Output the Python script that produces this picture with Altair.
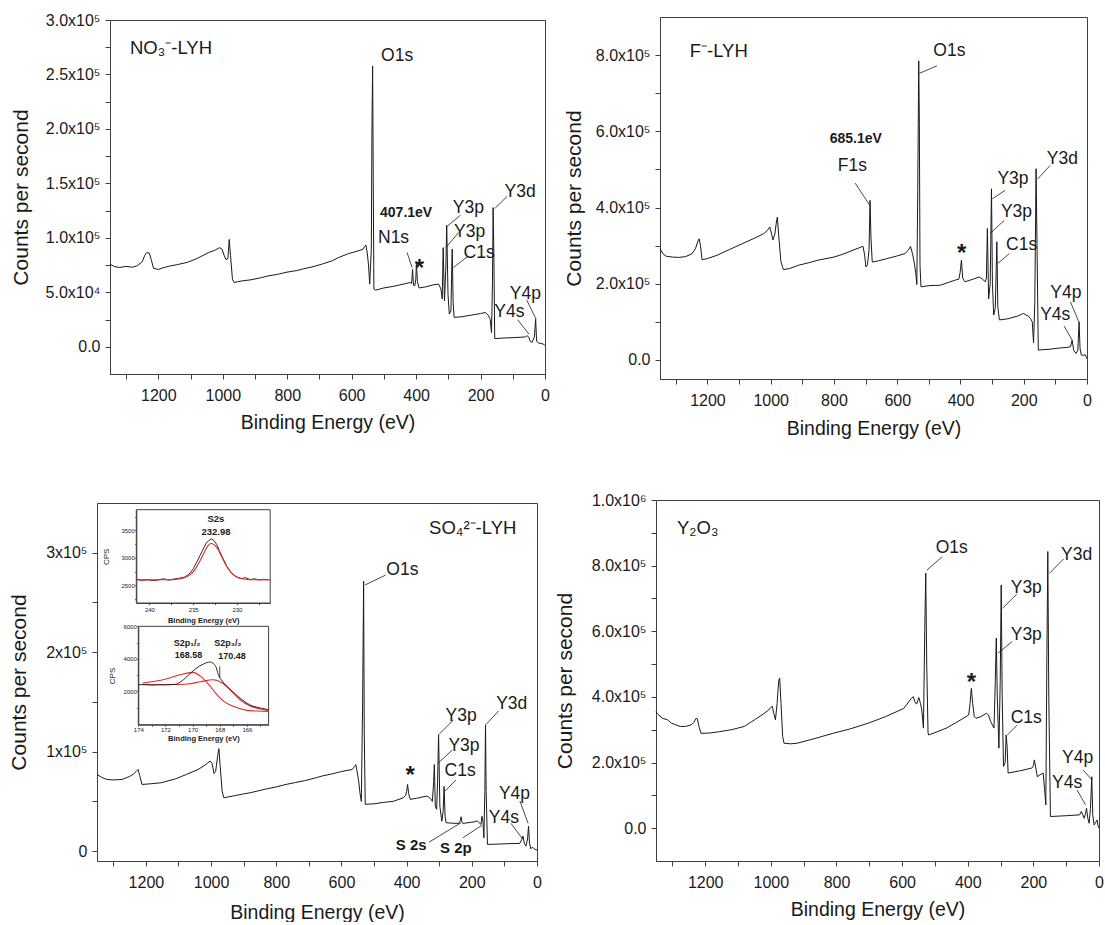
import altair as alt
import pandas as pd

FONT = "Liberation Sans"
INK = "#1a1a1a"
FRAME = "#404040"
RED = "#e8262a"

X_DOMAIN = [1350, 0]
X_TICKS = list(range(0, 1400, 100))
X_TITLE = "Binding Energy (eV)"
Y_TITLE = "Counts per second"

# ---------------- panel 1 : NO3- LYH ----------------
p1_be = [1350, 1335, 1320, 1300, 1280, 1265, 1250, 1242, 1236, 1228, 1222, 1215, 1200, 1185, 1166, 1140,
         1110, 1080, 1044, 1025, 1010, 1002, 996, 990, 984, 980, 976, 970, 965, 940, 912, 880, 860, 830,
         801, 770, 750, 720, 691, 660, 640, 610, 580, 565, 560, 556, 552, 548, 544, 539, 537, 535, 533,
         531, 526, 500, 470, 440, 418, 414, 411, 408, 404, 401, 399, 396, 391, 370, 345, 330, 323, 319,
         316, 312, 308, 305, 301, 297, 292, 288, 285, 282, 260, 240, 220, 200, 185, 176, 170, 166, 163,
         161, 159, 156, 130, 90, 61, 55, 50, 46, 40, 33, 29, 26, 20, 12, 5, 0]
p1_cps = [75800, 73500, 72800, 73800, 73000, 74500, 78000, 84000, 86500, 86000, 80000, 72000, 71000, 72500,
          74000, 75500, 77500, 81000, 86500, 88500, 91000, 89500, 84000, 80000, 81000, 98500, 84000, 62000,
          59000, 60500, 61500, 63500, 65000, 66500, 68500, 70000, 71500, 73500, 76000, 79000, 82000, 85500,
          88000, 89500, 92000, 93500, 87000, 76000, 57500, 90000, 200000, 257800, 150000, 53000, 52000,
          54000, 55500, 57500, 59000, 58000, 71000, 56500, 56000, 62000, 77000, 60000, 54000, 55000, 57000,
          57500, 53000, 44000, 91000, 42000, 70000, 111600, 48000, 30000, 33000, 89600, 40000, 27000, 27500,
          28500, 29500, 30500, 31500, 29000, 25000, 13000, 60000, 127800, 90000, 7500, 8000, 8500, 9000,
          10200, 8500, 5000, 4000, 9000, 25400, 5000, 3500, 3000, 2500, 1000]
p1_lab = ["O1s", "N1s", "Y3p", "Y3p", "C1s", "Y3d", "Y4p", "Y4s"]
p1_lab_x = [459, 470, 238, 234, 204.6, 77.4, 60.8, 110.6]
p1_lab_y = [267000, 99400, 127000, 105800, 85900, 142200, 48300, 31500]
p1_lead_x1 = [428, 262, 268, 240, 118, 56.4, 85]
p1_lead_y1 = [86500, 120800, 104900, 82900, 137900, 42800, 24800]
p1_lead_x2 = [412.5, 302, 307.5, 284, 156, 27.7, 49.8]
p1_lead_y2 = [72800, 111000, 91100, 72800, 126900, 25400, 11600]
p1_bold = ["407.1eV"]
p1_bold_x = [431]
p1_bold_y = [123000]
p1_star_x = [390]
p1_star_y = [75800]
p1_title = ["NO₃⁻-LYH"]
p1_title_x = [1288]
p1_title_y = [274700]
p1_y_domain = [-25000, 300000]
p1_y_ticks = list(range(0, 300001, 25000))

# ---------------- panel 2 : F- LYH ----------------
p2_be = [1350, 1340, 1330, 1310, 1292, 1270, 1250, 1238, 1230, 1226, 1222, 1217, 1200, 1169, 1130, 1090,
         1050, 1023, 1010, 1003, 997, 993, 987, 982, 979, 975, 968, 960, 940, 912, 880, 850, 800, 770, 740,
         712, 708, 703, 699, 694, 689, 686, 683, 679, 660, 632, 600, 576, 565, 558, 552, 546, 541, 538,
         535, 532, 530, 528, 525, 500, 464, 440, 415, 405, 401, 397, 393, 386, 360, 341, 330, 322, 318,
         315, 311, 306, 302, 299, 295, 290, 285, 282, 277, 250, 220, 201, 193, 185, 179, 173, 169, 165,
         161, 158, 154, 120, 90, 62, 52, 47, 42, 35, 29, 25, 22, 18, 12, 6, 0]
p2_cps = [292000, 278000, 272000, 270000, 269000, 271000, 278000, 292000, 312000, 318000, 300000, 263000,
          266000, 275000, 290000, 305000, 320000, 331000, 340000, 349000, 330000, 315000, 330000, 362000,
          375000, 330000, 260000, 237000, 240000, 248600, 255000, 262000, 270000, 278000, 288000, 297000,
          298000, 275000, 244000, 250000, 290000, 419000, 320000, 257000, 260000, 266000, 273000, 279000,
          288000, 298000, 280000, 255000, 225000, 198000, 450000, 785000, 620000, 250000, 192000, 195000,
          196000, 203000, 210000, 212000, 230000, 262000, 215000, 205000, 212000, 218000, 212000, 205000,
          215000, 345000, 160000, 200000, 449000, 200000, 118000, 135000, 310000, 140000, 105000, 108000,
          115000, 122000, 118000, 115000, 109000, 100000, 45000, 150000, 502000, 300000, 26000, 28000,
          31000, 33000, 35000, 52000, 25000, 17000, 25000, 100000, 30000, 13000, 12000, 14000, 3000]
p2_lab = ["O1s", "F1s", "Y3p", "Y3p", "C1s", "Y3d", "Y4p", "Y4s"]
p2_lab_x = [435, 742, 234, 223, 206.5, 78, 67, 100.5]
p2_lab_y = [809600, 510000, 475000, 388000, 301000, 528000, 174500, 117800]
p2_lead_x1 = [474.4, 733, 259, 262, 245.6, 117, 52.5, 72.6]
p2_lead_y1 = [772000, 464000, 445000, 366000, 279000, 510000, 152700, 89000]
p2_lead_x2 = [530, 686.5, 299, 307, 282.4, 156, 25.7, 46.9]
p2_lead_y2 = [752000, 405700, 423000, 331500, 253000, 475000, 100000, 52300]
p2_bold = ["685.1eV"]
p2_bold_x = [731]
p2_bold_y = [580000]
p2_star_x = [396]
p2_star_y = [292000]
p2_title = ["F⁻-LYH"]
p2_title_x = [1256]
p2_title_y = [811000]
p2_y_domain = [-50000, 900000]
p2_y_ticks = list(range(0, 800001, 100000))

# ---------------- panel 3 : SO4 2- LYH ----------------
p3_be = [1350, 1335, 1320, 1300, 1273, 1250, 1238, 1230, 1224, 1219, 1212, 1190, 1153, 1110, 1076, 1040,
         1016, 1003, 997, 991, 986, 980, 976, 972, 966, 961, 930, 900, 879, 830, 800, 770, 740, 710, 680,
         660, 630, 600, 567, 560, 556, 552, 547, 543, 539, 535, 532, 530, 527, 500, 470, 441, 410, 403,
         400, 397, 394, 389, 370, 350, 337, 327, 321, 317, 315, 312, 308, 305, 302, 298, 292, 288, 285,
         282, 279, 260, 240, 235, 233, 230, 228, 205, 190, 184, 176, 172, 169, 166, 163, 160, 158, 156,
         152, 120, 80, 53, 46, 43, 39, 34, 29, 26, 23, 19, 14, 8, 0]
p3_cps = [77000, 74000, 72000, 71500, 72000, 75000, 77500, 80000, 82000, 76000, 67000, 67500, 68700, 72500,
          77000, 82000, 87000, 90500, 88000, 78000, 80000, 95000, 103000, 85000, 60000, 53600, 55500, 57500,
          58700, 62500, 64500, 67000, 69000, 71000, 73500, 75400, 77500, 80000, 82000, 85000, 87000, 80000,
          70000, 58000, 50000, 150000, 271500, 120000, 47000, 47500, 49000, 50000, 53600, 56000, 60000,
          67000, 58000, 52000, 53000, 54500, 55300, 53000, 50000, 70000, 87000, 45000, 42000, 70000, 117000,
          45000, 30000, 40000, 65000, 35000, 28500, 28000, 27800, 31000, 34500, 29000, 27800, 28800, 29500,
          30500, 28000, 26800, 35000, 30000, 13400, 60000, 127000, 60000, 6700, 7000, 7500, 7700, 12000,
          15000, 8000, 5000, 12000, 25000, 8000, 2300, 4000, 2000, 1000]
p3_lab = ["O1s", "Y3p", "Y3p", "C1s", "Y3d", "Y4p", "Y4s"]
p3_lab_x = [413, 233, 224, 236, 77.6, 69, 101.6]
p3_lab_y = [283000, 135800, 105600, 80400, 147500, 57000, 33500]
p3_lead_x1 = [464.5, 257, 260, 249, 118, 52.5, 79.8, 331, 227]
p3_lead_y1 = [277500, 131700, 101600, 71400, 140800, 50300, 27800, 9000, 13400]
p3_lead_x2 = [528, 300.6, 304, 282, 156, 27.3, 44.8, 233, 169.4]
p3_lead_y2 = [267500, 117300, 88200, 60300, 127400, 27800, 12400, 28500, 25800]
p3_bold = ["S 2s", "S 2p"]
p3_bold_x = [386, 249]
p3_bold_y = [5700, 2700]
p3_star_x = [389]
p3_star_y = [80400]
p3_title = ["SO₄²⁻-LYH"]
p3_title_x = [331]
p3_title_y = [325000]
p3_y_domain = [-10000, 350000]
p3_y_ticks = list(range(0, 300001, 50000))

# inset 1 : S2s
s2s_x_domain = [241.5, 226.2]
s2s_y_domain = [2180, 3875]
s2s_x_ticks = [240, 237.5, 235, 232.5, 230, 227.5]
s2s_y_ticks = [2250, 2500, 2750, 3000, 3250, 3500, 3750]
s2s_be = [241.4, 240.8, 240.2, 239.6, 239.0, 238.4, 237.8, 237.2, 236.6, 236.0, 235.5, 235.0, 234.6, 234.2,
          233.8, 233.5, 233.2, 232.9, 232.6, 232.3, 232.0, 231.6, 231.2, 230.8, 230.4, 230.0, 229.5, 229.0,
          228.5, 228.0, 227.5, 227.0, 226.5]
s2s_cps = [2610, 2590, 2605, 2585, 2600, 2620, 2595, 2615, 2630, 2650, 2700, 2800, 2920, 3050, 3180, 3270,
           3320, 3345, 3310, 3240, 3130, 2990, 2860, 2760, 2690, 2650, 2625, 2640, 2605, 2620, 2600, 2610,
           2605]
s2s_fit_be = [241.4, 240.0, 238.5, 237.0, 236.0, 235.3, 234.7, 234.2, 233.8, 233.4, 233.0, 232.6, 232.2,
              231.8, 231.3, 230.7, 230.0, 229.0, 228.0, 226.2]
s2s_fit_cps = [2600, 2600, 2602, 2610, 2640, 2700, 2810, 2950, 3080, 3200, 3260, 3240, 3160, 3040, 2880,
               2740, 2650, 2612, 2602, 2600]
s2s_lab = ["S2s", "232.98"]
s2s_lab_x = [232.4, 232.4]
s2s_lab_y = [3700, 3470]

# inset 2 : S2p
s2p_x_domain = [174, 164.4]
s2p_y_domain = [-50, 6000]
s2p_x_ticks = [174, 173, 172, 171, 170, 169, 168, 167, 166, 165]
s2p_y_ticks = [1000, 2000, 3000, 4000, 5000, 6000]
s2p_be = [174.0, 173.5, 173.0, 172.5, 172.0, 171.6, 171.3, 170.9, 170.4, 169.8, 169.2, 168.7, 168.3, 168.1,
          167.8, 167.2, 166.5, 165.8, 165.0, 164.4]
s2p_cps = [2410, 2420, 2390, 2410, 2400, 2415, 2430, 2574, 2923, 3374, 3682, 3805, 3540, 3026, 2615, 2103,
           1590, 1180, 974, 872]
s2p_fa_be = [173.7, 172.8, 171.9, 170.9, 170.0, 169.4, 168.9, 168.3, 167.7, 167.0, 166.0, 165.2, 164.4]
s2p_fa_cps = [2513, 2620, 2780, 3026, 3170, 2923, 2513, 1897, 1385, 1077, 830, 790, 770]
s2p_fb_be = [173.7, 172.5, 171.3, 170.4, 169.4, 168.5, 167.8, 167.2, 166.5, 165.8, 165.0, 164.4]
s2p_fb_cps = [2410, 2410, 2420, 2451, 2595, 2718, 2513, 2062, 1487, 1118, 913, 830]
s2p_mark_x = [168.0]
s2p_mark_y1 = [2820]
s2p_mark_y2 = [3540]
s2p_lab = ["S2p₁/₂", "168.58", "S2p₃/₂", "170.48"]
s2p_lab_x = [170.4, 170.3, 167.4, 167.1]
s2p_lab_y = [4950, 4250, 4990, 4190]

# ---------------- panel 4 : Y2O3 ----------------
p4_be = [1350, 1345, 1330, 1315, 1303, 1290, 1276, 1260, 1243, 1235, 1228, 1224, 1219, 1213, 1185, 1157,
         1120, 1081, 1050, 1027, 1007, 1000, 996, 991, 986, 981, 976, 973, 969, 964, 960, 940, 919, 870,
         811, 760, 703, 650, 595, 573, 566, 561, 556, 549, 544, 540, 535, 531, 528, 525, 521, 519, 490,
         465, 430, 405, 397, 393, 389, 385, 380, 375, 360, 343, 337, 330, 320, 316, 313, 310, 305, 301,
         298, 295, 291, 286, 283, 280, 277, 240, 205, 200, 197, 192, 188, 176, 170, 166, 162, 159, 156,
         153, 148, 100, 59, 54, 49, 45, 41, 38, 34, 30, 26, 22, 19, 15, 10, 6, 3, 0]
p4_cps = [355000, 348000, 335000, 330000, 320000, 315000, 310000, 310000, 315000, 322000, 335000, 333000,
          310000, 289000, 290000, 294000, 300000, 310000, 330000, 345000, 360000, 368000, 372000, 350000,
          330000, 380000, 450000, 457000, 380000, 280000, 259000, 257000, 259000, 272000, 289000, 302000,
          320000, 340000, 365000, 394000, 401000, 385000, 378000, 398000, 380000, 360000, 305000, 600000,
          777000, 500000, 290000, 284000, 295000, 305000, 325000, 340000, 345000, 380000, 426000, 380000,
          340000, 335000, 340000, 350000, 345000, 325000, 305000, 450000, 579000, 400000, 244000, 450000,
          741000, 400000, 188000, 200000, 284000, 250000, 168000, 175000, 183000, 190000, 208000, 180000,
          157000, 165000, 168000, 120000, 71000, 500000, 843000, 400000, 35500, 38000, 40600, 50800, 40000,
          30000, 45000, 61000, 30000, 15000, 60000, 157000, 40000, 10000, 18000, 25000, 8000, 0]
p4_lab = ["O1s", "Y3p", "Y3p", "C1s", "Y3d", "Y4p", "Y4s"]
p4_lab_x = [448.6, 221.6, 221.6, 221.6, 68, 65, 97.3]
p4_lab_y = [852800, 731000, 588800, 335000, 832500, 215000, 137000]
p4_lead_x1 = [477.8, 250.8, 264.8, 248.6, 108, 48.6, 67]
p4_lead_y1 = [827000, 712700, 568500, 314700, 820300, 177700, 116700]
p4_lead_x2 = [524, 294, 308, 279, 151, 21.6, 41]
p4_lead_y2 = [786800, 670000, 533000, 284300, 776600, 147200, 71000]
p4_bold = []
p4_bold_x = []
p4_bold_y = []
p4_star_x = [389]
p4_star_y = [456800]
p4_title = ["Y₂O₃"]
p4_title_x = [1286]
p4_title_y = [913700]
p4_y_domain = [-100000, 1000000]
p4_y_ticks = list(range(0, 1000001, 100000))

# ---------------- label expressions ----------------
P1_YEXPR = ("datum.value == 0 ? '0.0' : (datum.value % 50000 != 0 ? '' : (datum.value < 100000 ? "
            "format(datum.value / 10000, '.1f') + 'x10⁴' : format(datum.value / 100000, '.1f') + 'x10⁵'))")
P2_YEXPR = ("datum.value == 0 ? '0.0' : (datum.value % 200000 != 0 ? '' : "
            "format(datum.value / 100000, '.1f') + 'x10⁵')")
P3_YEXPR = ("datum.value == 0 ? '0' : (datum.value % 100000 != 0 ? '' : "
            "format(datum.value / 100000, 'd') + 'x10⁵')")
P4_YEXPR = ("datum.value == 0 ? '0.0' : (datum.value % 200000 != 0 ? '' : (datum.value >= 1000000 ? "
            "format(datum.value / 1000000, '.1f') + 'x10⁶' : format(datum.value / 100000, '.1f') + 'x10⁵'))")
X_EXPR = "datum.value % 200 == 0 ? format(datum.value, 'd') : ''"


def make_xy(ydom, yvals, yexpr, ytitle_x, xtitle_y):
    xa = alt.Axis(values=X_TICKS, labelExpr=X_EXPR, title=X_TITLE, titleFontSize=19.5,
                  titleY=xtitle_y, titleBaseline="middle", labelPadding=8, labelFlush=False)
    x = alt.X("x:Q", scale=alt.Scale(domain=X_DOMAIN, nice=False, zero=False), axis=xa)
    ya = alt.Axis(values=yvals, labelExpr=yexpr, title=Y_TITLE, titleFontSize=21, titleX=ytitle_x,
                  titleBaseline="middle", labelPadding=5)
    y = alt.Y("y:Q", scale=alt.Scale(domain=ydom, nice=False, zero=False), axis=ya)
    return x, y


def main_layers(x, y, be, cps, lab, lab_x, lab_y, l_x1, l_y1, l_x2, l_y2, bold, bold_x, bold_y,
                star_x, star_y, title, title_x, title_y, bold_size):
    df_line = pd.DataFrame({"x": be, "y": cps, "i": list(range(len(be)))})
    df_lab = pd.DataFrame({"x": lab_x, "y": lab_y, "t": lab})
    df_lead = pd.DataFrame({"x": l_x1, "y": l_y1, "x2": l_x2, "y2": l_y2})
    df_star = pd.DataFrame({"x": star_x, "y": star_y, "t": ["*"] * len(star_x)})
    df_title = pd.DataFrame({"x": title_x, "y": title_y, "t": title})
    layers = [
        alt.Chart(df_line).mark_line(color=INK, strokeWidth=1).encode(x=x, y=y, order="i:Q"),
        alt.Chart(df_lead).mark_rule(color=INK, strokeWidth=0.8).encode(x=x, y=y, x2="x2:Q", y2="y2:Q"),
        alt.Chart(df_lab).mark_text(font=FONT, fontSize=17.5, color=INK, baseline="middle").encode(
            x=x, y=y, text="t:N"),
        alt.Chart(df_star).mark_text(font=FONT, fontSize=24, fontWeight="bold", color=INK,
                                     baseline="middle", dy=5).encode(x=x, y=y, text="t:N"),
        alt.Chart(df_title).mark_text(font=FONT, fontSize=18.5, color=INK, align="left",
                                      baseline="middle").encode(x=x, y=y, text="t:N"),
    ]
    if bold:
        df_bold = pd.DataFrame({"x": bold_x, "y": bold_y, "t": bold})
        layers.append(alt.Chart(df_bold).mark_text(font=FONT, fontSize=bold_size, fontWeight="bold",
                                                   color=INK, baseline="middle").encode(
            x=x, y=y, text="t:N"))
    return alt.layer(*layers)


def spacer(w, h):
    return alt.Chart(pd.DataFrame({"v": [0]})).mark_rule(strokeWidth=0, opacity=0).encode(
        x=alt.value(0), x2=alt.value(0), y=alt.value(0), y2=alt.value(0)).properties(
        width=w, height=h, view=alt.ViewBackground(stroke="transparent"))


# ---------------- panel 1 ----------------
x1, y1 = make_xy(p1_y_domain, p1_y_ticks, P1_YEXPR, -88.7, 48)
panel1 = main_layers(x1, y1, p1_be, p1_cps, p1_lab, p1_lab_x, p1_lab_y, p1_lead_x1, p1_lead_y1,
                     p1_lead_x2, p1_lead_y2, p1_bold, p1_bold_x, p1_bold_y, p1_star_x, p1_star_y,
                     p1_title, p1_title_x, p1_title_y, 14).properties(width=435, height=354)

# ---------------- panel 2 ----------------
x2, y2 = make_xy(p2_y_domain, p2_y_ticks, P2_YEXPR, -85.9, 49)
panel2 = main_layers(x2, y2, p2_be, p2_cps, p2_lab, p2_lab_x, p2_lab_y, p2_lead_x1, p2_lead_y1,
                     p2_lead_x2, p2_lead_y2, p2_bold, p2_bold_x, p2_bold_y, p2_star_x, p2_star_y,
                     p2_title, p2_title_x, p2_title_y, 14).properties(width=427, height=362)

# ---------------- panel 3 (with insets) ----------------
P3_W, P3_H = 440, 358
x3, y3 = make_xy(p3_y_domain, p3_y_ticks, P3_YEXPR, -77.5, 51)
main3 = main_layers(x3, y3, p3_be, p3_cps, p3_lab, p3_lab_x, p3_lab_y, p3_lead_x1, p3_lead_y1,
                    p3_lead_x2, p3_lead_y2, p3_bold, p3_bold_x, p3_bold_y, p3_star_x, p3_star_y,
                    p3_title, p3_title_x, p3_title_y, 15)


def inset_xy(xdom, ydom, xrange, yrange, xticks, yticks, xexpr, yexpr, ytitle_x, xtitle_y, xlab_pad):
    xa = alt.Axis(orient="bottom", offset=yrange[0] - P3_H, values=xticks, labelExpr=xexpr,
                  title="Binding Energy (eV)", titleFontSize=7.5, titleFontWeight="bold",
                  titleY=xtitle_y, titleBaseline="middle", labelFontSize=6, tickSize=1.5,
                  labelPadding=xlab_pad, labelFlush=False)
    ya = alt.Axis(orient="left", offset=-xrange[0], values=yticks, labelExpr=yexpr, title="CPS",
                  titleFontSize=8, titleX=ytitle_x, titleBaseline="middle", labelFontSize=6,
                  tickSize=1.5, labelPadding=0.5)
    x = alt.X("x:Q", scale=alt.Scale(domain=xdom, range=xrange, nice=False, zero=False), axis=xa)
    y = alt.Y("y:Q", scale=alt.Scale(domain=ydom, range=yrange, nice=False, zero=False), axis=ya)
    return x, y


ix1, iy1 = inset_xy(s2s_x_domain, s2s_y_domain, [39.3, 173.2], [100, 6.7], s2s_x_ticks, s2s_y_ticks,
                    "datum.value % 5 == 0 ? format(datum.value, 'd') : ''",
                    "datum.value % 500 == 0 ? format(datum.value, 'd') : ''", -30, 17.3, 1.5)
df_f1 = pd.DataFrame({"x": [s2s_x_domain[0]], "x2": [s2s_x_domain[1]],
                      "y": [s2s_y_domain[0]], "y2": [s2s_y_domain[1]]})
inset1 = alt.layer(
    alt.Chart(df_f1).mark_rect(filled=False, stroke=FRAME, strokeWidth=1).encode(
        x=ix1, y=iy1, x2="x2:Q", y2="y2:Q"),
    alt.Chart(pd.DataFrame({"x": s2s_be, "y": s2s_cps, "i": list(range(len(s2s_be)))})).mark_line(
        color=INK, strokeWidth=0.9).encode(x=ix1, y=iy1, order="i:Q"),
    alt.Chart(pd.DataFrame({"x": s2s_fit_be, "y": s2s_fit_cps, "i": list(range(len(s2s_fit_be)))})
              ).mark_line(color=RED, strokeWidth=1.1, interpolate="monotone").encode(
        x=ix1, y=iy1, order="i:Q"),
    alt.Chart(pd.DataFrame({"x": s2s_lab_x, "y": s2s_lab_y, "t": s2s_lab})).mark_text(
        font=FONT, fontSize=9.5, fontWeight="bold", color=INK, baseline="middle").encode(
        x=ix1, y=iy1, text="t:N"),
)

ix2, iy2 = inset_xy(s2p_x_domain, s2p_y_domain, [41.3, 171.6], [221.7, 123.3], s2p_x_ticks, s2p_y_ticks,
                    "datum.value % 2 == 0 ? format(datum.value, 'd') : ''",
                    "datum.value % 2000 == 0 ? format(datum.value, 'd') : ''", -26, 13.3, 0.5)
df_f2 = pd.DataFrame({"x": [s2p_x_domain[0]], "x2": [s2p_x_domain[1]],
                      "y": [s2p_y_domain[0]], "y2": [s2p_y_domain[1]]})
inset2 = alt.layer(
    alt.Chart(df_f2).mark_rect(filled=False, stroke=FRAME, strokeWidth=1).encode(
        x=ix2, y=iy2, x2="x2:Q", y2="y2:Q"),
    alt.Chart(pd.DataFrame({"x": s2p_fa_be, "y": s2p_fa_cps, "i": list(range(len(s2p_fa_be)))})
              ).mark_line(color=RED, strokeWidth=1.1, interpolate="monotone").encode(
        x=ix2, y=iy2, order="i:Q"),
    alt.Chart(pd.DataFrame({"x": s2p_fb_be, "y": s2p_fb_cps, "i": list(range(len(s2p_fb_be)))})
              ).mark_line(color=RED, strokeWidth=1.1, interpolate="monotone").encode(
        x=ix2, y=iy2, order="i:Q"),
    alt.Chart(pd.DataFrame({"x": s2p_be, "y": s2p_cps, "i": list(range(len(s2p_be)))})).mark_line(
        color=INK, strokeWidth=0.9, interpolate="monotone").encode(x=ix2, y=iy2, order="i:Q"),
    alt.Chart(pd.DataFrame({"x": s2p_mark_x, "y": s2p_mark_y1, "y2": s2p_mark_y2})).mark_rule(
        color=INK, strokeWidth=0.8).encode(x=ix2, y=iy2, y2="y2:Q"),
    alt.Chart(pd.DataFrame({"x": s2p_lab_x, "y": s2p_lab_y, "t": s2p_lab})).mark_text(
        font=FONT, fontSize=9, fontWeight="bold", color=INK, baseline="middle").encode(
        x=ix2, y=iy2, text="t:N"),
)

panel3 = alt.layer(main3, inset1, inset2).resolve_scale(x="independent", y="independent").properties(
    width=P3_W, height=P3_H)

# ---------------- panel 4 ----------------
x4, y4 = make_xy(p4_y_domain, p4_y_ticks, P4_YEXPR, -90.3, 48)
panel4 = main_layers(x4, y4, p4_be, p4_cps, p4_lab, p4_lab_x, p4_lab_y, p4_lead_x1, p4_lead_y1,
                     p4_lead_x2, p4_lead_y2, p4_bold, p4_bold_x, p4_bold_y, p4_star_x, p4_star_y,
                     p4_title, p4_title_x, p4_title_y, 14).properties(width=443, height=361)

# ---------------- layout (spacers give each panel its own offset) ----------------
col1 = alt.vconcat(spacer(1, 9.5), panel1, spacing=0)
col2 = alt.vconcat(spacer(1, 14), panel2, spacing=0)
col3 = alt.vconcat(spacer(1, 48.5), panel3, spacing=0)
col4 = alt.vconcat(spacer(1, 37.3), panel4, spacing=0)

row1 = alt.hconcat(spacer(6.2, 1), col1, spacer(8.35, 1), col2, spacing=1)
row2 = alt.hconcat(spacer(5.4, 1), col3, spacer(8.35, 1), col4, spacing=1)

chart = alt.vconcat(row1, row2, spacing=14).properties(
    padding=0, background="white"
).configure_view(stroke=FRAME, strokeWidth=1).configure_axis(
    grid=False, domainColor=FRAME, tickColor=FRAME, labelColor=INK, titleColor=INK,
    labelFont=FONT, titleFont=FONT, labelFontSize=16, tickSize=5, titleFontWeight="normal",
    labelOverlap=False, labelFlush=False
)

chart.save("out.html", embed_options={"renderer": "svg", "actions": False})
